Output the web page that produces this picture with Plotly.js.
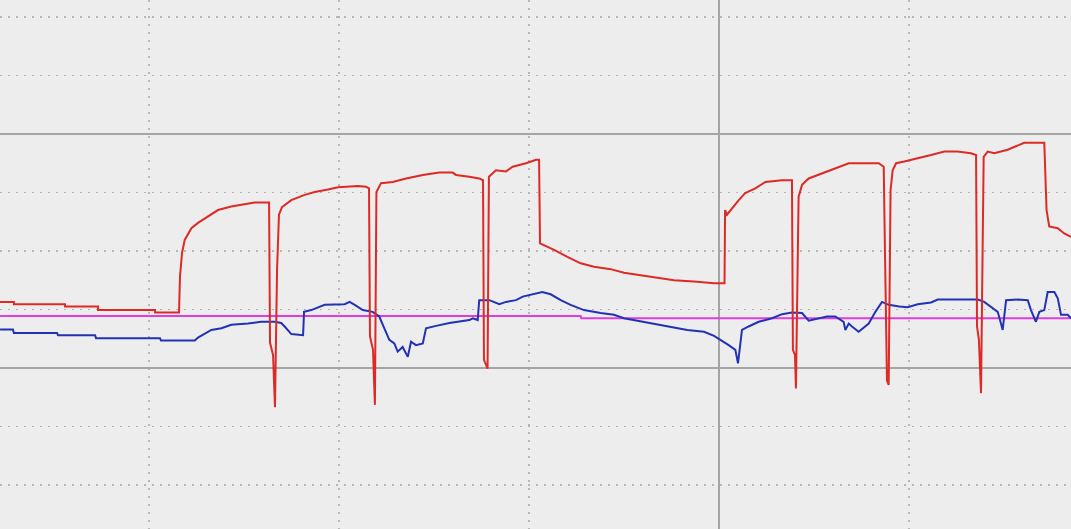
<!DOCTYPE html>
<html>
<head>
<meta charset="utf-8">
<script src="https://cdn.plot.ly/plotly-3.0.1.min.js"></script>
<style>html,body{margin:0;padding:0;background:#ededed;}#chart{width:1071px;height:529px;}</style>
</head>
<body>
<div id="chart"></div>
<script>
// time in seconds (one grid division = 10 s), values in divisions
const redTime = [2.16,2.89,2.89,5.58,5.58,7.32,7.32,10.32,10.32,11.58,11.63,11.74,11.88,12.23,12.58,13.11,13.63,14.33,15.04,15.56,16.32,16.37,16.53,16.63,16.74,16.84,17.00,17.49,18.19,18.72,19.42,19.95,21.00,21.42,21.58,21.63,21.79,21.89,21.97,22.21,22.83,23.53,24.41,25.28,25.98,26.16,26.86,27.38,27.58,27.63,27.82,27.89,28.26,28.79,29.14,29.84,30.37,30.53,30.58,30.79,31.32,32.02,32.72,33.42,34.30,35.00,35.88,36.75,37.63,38.68,39.74,40.29,40.32,40.42,40.68,41.04,41.38,41.91,42.44,43.32,43.84,43.89,44.00,44.05,44.19,44.37,44.72,45.42,46.12,46.83,48.41,48.67,48.72,48.84,48.93,49.03,49.14,49.32,49.75,50.46,51.16,51.86,52.56,53.26,53.53,53.58,53.68,53.79,53.93,54.14,54.49,55.19,55.72,56.07,57.12,57.24,57.38,57.83,58.17,58.53];
const redValue = [1.13,1.13,1.09,1.09,1.05,1.05,0.99,0.99,0.95,0.95,1.56,1.97,2.19,2.39,2.48,2.59,2.70,2.76,2.80,2.83,2.83,0.43,0.22,-0.67,1.68,2.62,2.75,2.87,2.96,3.01,3.05,3.09,3.11,3.10,3.07,0.54,0.31,-0.63,3.01,3.16,3.18,3.24,3.30,3.34,3.34,3.30,3.27,3.24,3.21,0.14,-0.01,3.27,3.38,3.36,3.44,3.50,3.56,3.56,2.13,2.10,2.02,1.90,1.79,1.73,1.69,1.63,1.59,1.55,1.50,1.48,1.45,1.45,2.70,2.62,2.73,2.87,2.99,3.07,3.18,3.21,3.21,0.31,0.22,-0.35,2.93,3.13,3.24,3.33,3.41,3.50,3.50,3.44,2.31,-0.21,-0.29,3.04,3.38,3.50,3.53,3.58,3.64,3.70,3.70,3.67,3.64,0.71,0.48,-0.43,3.61,3.70,3.67,3.73,3.81,3.85,3.85,2.70,2.42,2.39,2.30,2.24];

const blueTime = [2.16,2.84,2.89,5.16,5.21,7.16,7.21,10.58,10.63,12.41,12.58,12.93,13.28,13.81,14.33,15.21,15.91,16.62,16.96,17.14,17.49,18.11,18.16,18.54,19.25,20.30,20.56,20.83,21.25,21.77,22.12,22.38,22.65,22.91,23.09,23.35,23.62,23.79,24.05,24.41,24.58,25.11,25.81,26.86,27.04,27.30,27.38,27.91,28.44,28.79,29.32,29.67,30.37,30.70,31.14,31.67,32.19,32.89,33.77,34.47,35.00,35.70,36.58,37.46,38.33,39.21,39.74,40.51,40.86,41.00,41.21,41.56,42.09,42.79,43.32,43.84,44.37,44.72,45.25,45.68,46.12,46.56,46.65,46.83,47.00,47.35,47.88,48.23,48.58,48.93,49.49,49.93,50.46,51.16,51.51,53.62,53.96,54.32,54.67,54.84,54.93,55.11,55.72,56.25,56.42,56.68,56.86,57.12,57.30,57.65,57.83,58.00,58.35,58.53];
const blueValue = [0.66,0.66,0.60,0.60,0.56,0.56,0.51,0.51,0.47,0.47,0.52,0.58,0.65,0.68,0.74,0.76,0.79,0.79,0.77,0.71,0.58,0.56,0.96,0.99,1.08,1.09,1.13,1.08,0.99,0.96,0.88,0.68,0.48,0.42,0.28,0.36,0.19,0.45,0.39,0.42,0.68,0.72,0.77,0.82,0.85,0.82,1.16,1.16,1.09,1.13,1.16,1.22,1.28,1.30,1.26,1.16,1.08,0.99,0.94,0.91,0.85,0.81,0.75,0.70,0.65,0.62,0.55,0.39,0.31,0.08,0.65,0.71,0.79,0.85,0.92,0.95,0.94,0.81,0.85,0.88,0.88,0.79,0.65,0.76,0.71,0.62,0.76,0.96,1.13,1.08,1.05,1.04,1.09,1.12,1.17,1.17,1.13,1.05,0.96,0.76,0.65,1.16,1.17,1.16,0.99,0.79,0.96,0.99,1.30,1.30,1.19,0.91,0.91,0.85];

const limitTime = [2.16,32.72,32.75,58.53];
const limitValue = [0.89,0.89,0.85,0.85];

const traces = [
  {x: limitTime, y: limitValue, mode: 'lines', line: {color: '#e03ce0', width: 2}, hoverinfo: 'skip'},
  {x: blueTime, y: blueValue, mode: 'lines', line: {color: '#2232b4', width: 2}, hoverinfo: 'skip'},
  {x: redTime, y: redValue, mode: 'lines', line: {color: '#dc2a26', width: 2}, hoverinfo: 'skip'}
];

const gridDot = {showgrid: true, gridcolor: '#b6b6b6', griddash: '2px,6px', gridwidth: 1.5};
const layout = {
  width: 1071, height: 529,
  margin: {l: 0, r: 0, t: 0, b: 0, pad: 0},
  paper_bgcolor: '#ededed', plot_bgcolor: '#ededed',
  showlegend: false,
  xaxis: {
    range: [41/19, 1112/19], showticklabels: false, ticks: '', zeroline: false, showline: false,
    tick0: 0, dtick: 40, showgrid: true, gridcolor: '#a4a4a4', gridwidth: 2,
    minor: Object.assign({tick0: 0, dtick: 10}, gridDot)
  },
  yaxis: {
    range: [-161/58.5, 368/58.5], showticklabels: false, ticks: '', zeroline: false, showline: false,
    tick0: 0, dtick: 4, showgrid: true, gridcolor: '#a4a4a4', gridwidth: 2,
    minor: Object.assign({tick0: 0, dtick: 1}, gridDot)
  }
};
Plotly.newPlot('chart', traces, layout, {staticPlot: true, displayModeBar: false});
</script>
</body>
</html>
